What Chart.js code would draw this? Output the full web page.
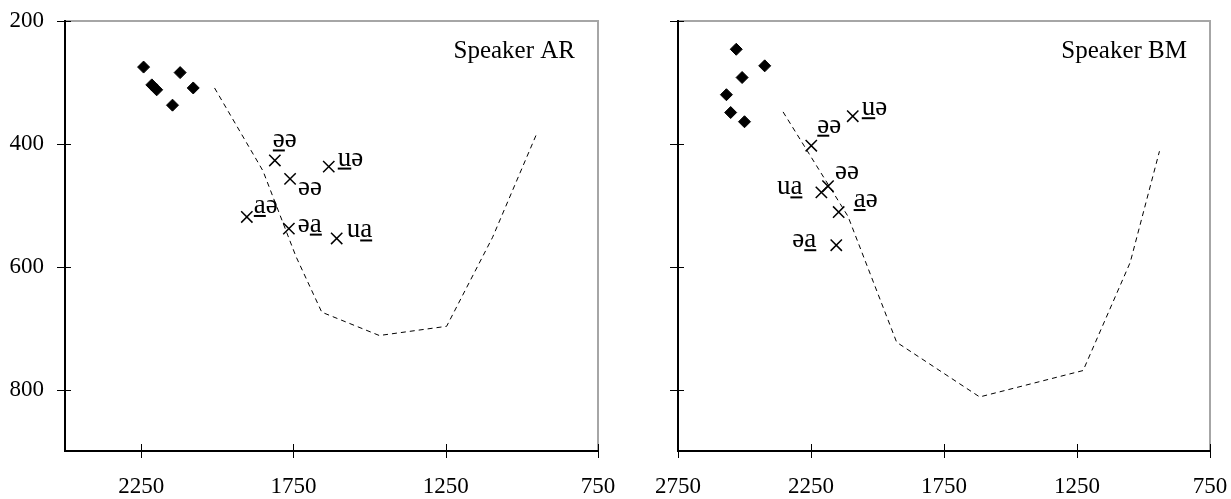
<!DOCTYPE html>
<html>
<head>
<meta charset="utf-8">
<title>Speaker AR / Speaker BM</title>
<script src="https://cdn.jsdelivr.net/npm/chart.js@4.4.1/dist/chart.umd.min.js"></script>
<style>
  html, body { margin: 0; padding: 0; background: #fff; }
  #wrap { position: relative; width: 1231px; height: 499px; overflow: hidden; }
  canvas { position: absolute; top: 0; }
  #chartAR { left: 0; }
  #chartBM { left: 615px; }
</style>
</head>
<body>
<div id="wrap">
  <canvas id="chartAR" width="620" height="499"></canvas>
  <canvas id="chartBM" width="616" height="499"></canvas>
</div>
<script>
// axis ticks
var f1Ticks = [200, 400, 600, 800];
var arF2Ticks = [2250, 1750, 1250, 750];
var bmF2Ticks = [2750, 2250, 1750, 1250, 750];

// diphthong labels, index of the underlined letter (-1 = none)
var arDiphLabels = ['əə', 'əə', 'uə', 'aə', 'əa', 'ua'];
var arDiphUnder  = [0, -1, 0, 0, 1, 1];
var bmDiphLabels = ['uə', 'əə', 'əə', 'ua', 'aə', 'əa'];
var bmDiphUnder  = [0, 0, -1, 1, 0, 1];

// Speaker AR, F2 / F1 in Hz
var arFrontF2 = [2242, 2122, 2215, 2199, 2079, 2147];
var arFrontF1 = [275, 284, 304, 312, 309, 337];
var arDiphF2  = [1811, 1761, 1634, 1903, 1765, 1608];
var arDiphF1  = [427, 457, 437, 519, 538, 554];
var arLineF2  = [2009, 1850, 1742, 1657, 1468, 1247, 1096, 950];
var arLineF1  = [309, 444, 583, 674, 712, 697, 552, 382];

// Speaker BM, F2 / F1 in Hz
var bmFrontF2 = [2531, 2424, 2509, 2568, 2552, 2500];
var bmFrontF1 = [246, 273, 292, 320, 349, 364];
var bmDiphF2  = [2093, 2249, 2186, 2211, 2146, 2155];
var bmDiphF1  = [355, 403, 469, 479, 511, 565];
var bmLineF2  = [2355, 2233, 2111, 1928, 1616, 1227, 1050, 940];
var bmLineF1  = [348, 433, 518, 723, 812, 769, 593, 412];

var serif = "'Liberation Serif', 'Times New Roman', 'DejaVu Serif', serif";
Chart.defaults.font.family = serif;
Chart.defaults.font.size = 23;
Chart.defaults.color = '#000';

function toPoints(xs, ys) {
    return xs.map(function (x, i) { return { x: x, y: ys[i] }; });
}

// black left/bottom axes, grey top/right edge, tick marks crossing the axes
var framePlugin = {
    id: 'frame',
    beforeDatasetsDraw: function (chart) {
        var a = chart.chartArea, ctx = chart.ctx;
        var sx = chart.scales.x, sy = chart.scales.y;
        ctx.save();
        ctx.strokeStyle = '#a6a6a6';
        ctx.lineWidth = 2;
        ctx.beginPath();
        ctx.moveTo(a.left, a.top);
        ctx.lineTo(a.right, a.top);
        ctx.lineTo(a.right, a.bottom);
        ctx.stroke();

        ctx.strokeStyle = '#000';
        ctx.lineWidth = 1;
        ctx.beginPath();
        sx.ticks.forEach(function (t) {
            var px = Math.round(sx.getPixelForValue(t.value)) + 0.5;
            ctx.moveTo(px, a.bottom - 7);
            ctx.lineTo(px, a.bottom + 7);
        });
        sy.ticks.forEach(function (t) {
            var py = Math.round(sy.getPixelForValue(t.value)) + 0.5;
            ctx.moveTo(a.left - 8, py);
            ctx.lineTo(a.left + 6, py);
        });
        ctx.stroke();

        ctx.lineWidth = 2;
        ctx.beginPath();
        ctx.moveTo(a.left, a.top - 1);
        ctx.lineTo(a.left, a.bottom);
        ctx.lineTo(a.right + 1, a.bottom);
        ctx.stroke();
        ctx.restore();
    }
};

// diphthong labels next to the crosses, plus the speaker name
var labelPlugin = {
    id: 'vowelLabels',
    afterDatasetsDraw: function (chart, args, opts) {
        var ctx = chart.ctx, a = chart.chartArea;
        var meta = chart.getDatasetMeta(opts.datasetIndex);
        ctx.save();
        ctx.fillStyle = '#000';
        ctx.textBaseline = 'alphabetic';
        ctx.textAlign = 'left';
        ctx.font = '27px ' + serif;
        meta.data.forEach(function (pt, i) {
            var txt = opts.texts[i], off = opts.offsets[i];
            var w = ctx.measureText(txt).width;
            var x0 = off[2] === 'right' ? pt.x + off[0] - w : pt.x + off[0];
            var y0 = pt.y + off[1];
            ctx.fillText(txt, x0, y0);
            var u = opts.underline[i];
            if (u >= 0) {
                var pre = ctx.measureText(txt.slice(0, u)).width;
                var cw = ctx.measureText(txt.charAt(u)).width;
                ctx.fillRect(x0 + pre, y0 + 2, cw, 2);
            }
        });
        ctx.font = '25px ' + serif;
        ctx.textAlign = 'right';
        ctx.fillText(opts.title, a.right - 23, a.top + 37);
        ctx.restore();
    }
};

function plainTick(v) { return String(v); }

function makeChart(id, cfg) {
    return new Chart(document.getElementById(id), {
        type: 'scatter',
        data: {
            datasets: [{
                data: toPoints(cfg.lineF2, cfg.lineF1),
                showLine: true,
                borderColor: '#000',
                borderWidth: 1,
                borderDash: [5, 4],
                pointRadius: 0
            }, {
                data: toPoints(cfg.frontF2, cfg.frontF1),
                pointStyle: 'rectRot',
                pointRadius: 6,
                backgroundColor: '#000',
                borderColor: '#000',
                borderWidth: 1
            }, {
                data: toPoints(cfg.diphF2, cfg.diphF1),
                pointStyle: 'crossRot',
                pointRadius: 8,
                borderColor: '#000',
                borderWidth: 1.5
            }]
        },
        options: {
            responsive: false,
            animation: false,
            events: [],
            layout: { padding: { top: 21, right: cfg.padRight, left: 0, bottom: 0 } },
            plugins: {
                legend: { display: false },
                tooltip: { enabled: false },
                vowelLabels: {
                    datasetIndex: 2,
                    texts: cfg.labels,
                    underline: cfg.under,
                    offsets: cfg.offsets,
                    title: cfg.title
                }
            },
            scales: {
                x: {
                    type: 'linear',
                    min: 750,
                    max: cfg.xMax,
                    reverse: true,
                    afterBuildTicks: function (s) { s.ticks = cfg.xTicks.map(function (v) { return { value: v }; }); },
                    afterFit: function (s) { s.height = 48; s.paddingLeft = 0; s.paddingRight = 0; },
                    grid: { display: false, drawTicks: false },
                    border: { display: false },
                    ticks: { padding: 22, maxRotation: 0, autoSkip: false, callback: plainTick }
                },
                y: {
                    type: 'linear',
                    min: 200,
                    max: 900,
                    reverse: true,
                    afterBuildTicks: function (s) { s.ticks = f1Ticks.map(function (v) { return { value: v }; }); },
                    afterFit: function (s) { s.width = cfg.yWidth; s.paddingTop = 0; s.paddingBottom = 0; },
                    grid: { display: false, drawTicks: false },
                    border: { display: false },
                    ticks: { display: cfg.yLabels, padding: 21, callback: plainTick }
                }
            }
        },
        plugins: [framePlugin, labelPlugin]
    });
}

makeChart('chartAR', {
    title: 'Speaker AR',
    xMax: 2500, xTicks: arF2Ticks, yWidth: 65, padRight: 22, yLabels: true,
    frontF2: arFrontF2, frontF1: arFrontF1,
    diphF2: arDiphF2, diphF1: arDiphF1,
    lineF2: arLineF2, lineF1: arLineF1,
    labels: arDiphLabels, under: arDiphUnder,
    offsets: [[-2, -13], [8, 16], [9, -1], [7, -4], [9, 3], [10, -1]]
});

makeChart('chartBM', {
    title: 'Speaker BM',
    xMax: 2750, xTicks: bmF2Ticks, yWidth: 63, padRight: 21, yLabels: false,
    frontF2: bmFrontF2, frontF1: bmFrontF1,
    diphF2: bmDiphF2, diphF1: bmDiphF1,
    lineF2: bmLineF2, lineF1: bmLineF1,
    labels: bmDiphLabels, under: bmDiphUnder,
    offsets: [[9, -1], [6, -13], [7, -7], [-19, 2, 'right'], [15, -5], [-20, 2, 'right']]
});
</script>
</body>
</html>
